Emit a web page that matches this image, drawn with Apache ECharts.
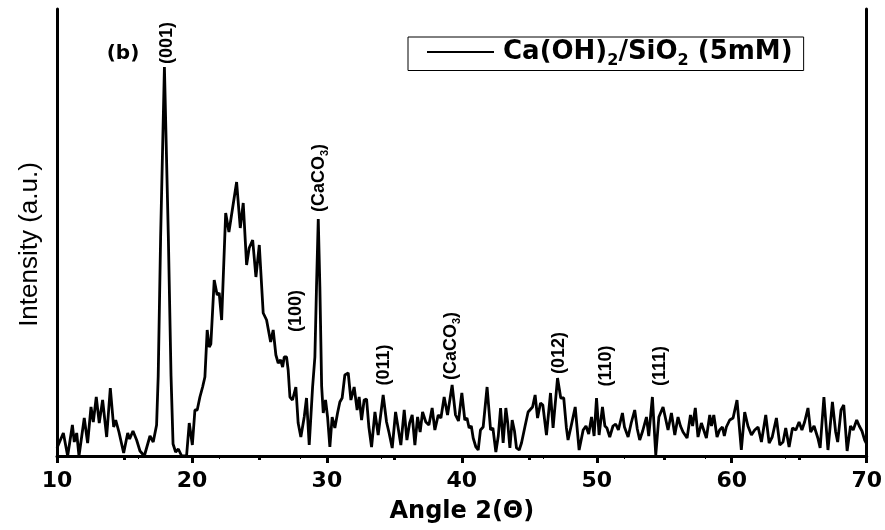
<!DOCTYPE html>
<html>
<head>
<meta charset="utf-8">
<title>XRD Ca(OH)2/SiO2 (5mM)</title>
<script src="https://cdn.jsdelivr.net/npm/echarts@6/dist/echarts.min.js"></script>
<style>
  html, body { margin: 0; padding: 0; background: #fff; }
  #main { width: 885px; height: 530px; }
</style>
</head>
<body>
<div id="main"></div>
<script>
// 2theta (deg) and intensity (a.u.)
var angles = [
  10.0, 10.47, 10.79, 11.14, 11.28, 11.46, 11.63, 12.02, 12.27, 12.52, 12.69, 12.91, 13.13, 13.38, 13.68, 13.95,
  14.2, 14.35, 14.59, 14.94, 15.24, 15.38, 15.63, 15.9, 16.15, 16.47, 16.89, 17.13, 17.38, 17.5, 17.68, 17.96,
  18.25, 18.45, 18.6, 18.79, 18.99, 19.24, 19.6, 19.8, 20.03, 20.22, 20.39, 20.59, 20.79, 20.96, 21.13, 21.28,
  21.4, 21.65, 21.87, 22.02, 22.2, 22.5, 22.74, 22.99, 23.31, 23.58, 23.8, 24.05, 24.24, 24.5, 24.74, 24.99,
  25.28, 25.53, 25.83, 26.02, 26.22, 26.39, 26.57, 26.72, 26.84, 27.01, 27.13, 27.26, 27.45, 27.7, 27.87, 28.07,
  28.32, 28.49, 28.69, 28.94, 29.11, 29.23, 29.36, 29.48, 29.61, 29.73, 29.9, 30.05, 30.22, 30.39, 30.59, 30.79,
  30.96, 31.13, 31.33, 31.58, 31.78, 32.02, 32.24, 32.39, 32.57, 32.76, 32.94, 33.11, 33.31, 33.56, 33.8, 34.17,
  34.42, 34.61, 34.84, 35.09, 35.28, 35.48, 35.73, 35.93, 36.13, 36.32, 36.52, 36.72, 36.91, 37.09, 37.33, 37.56,
  37.8, 38.0, 38.25, 38.45, 38.69, 38.94, 39.28, 39.53, 39.75, 40.0, 40.22, 40.38, 40.54, 40.7, 40.84, 41.04,
  41.21, 41.38, 41.58, 41.87, 42.13, 42.3, 42.52, 42.7, 42.87, 43.06, 43.26, 43.4, 43.56, 43.73, 43.9, 44.05,
  44.25, 44.42, 44.67, 44.91, 45.05, 45.24, 45.43, 45.61, 45.83, 46.0, 46.27, 46.57, 46.76, 47.09, 47.33, 47.55,
  47.75, 47.87, 48.1, 48.4, 48.69, 48.99, 49.2, 49.4, 49.61, 49.8, 49.98, 50.17, 50.42, 50.6, 50.75, 50.96,
  51.2, 51.4, 51.6, 51.9, 52.05, 52.32, 52.55, 52.81, 53.0, 53.18, 53.4, 53.68, 53.85, 54.12, 54.37, 54.6,
  54.91, 55.28, 55.53, 55.78, 56.02, 56.2, 56.39, 56.69, 56.94, 57.1, 57.3, 57.5, 57.75, 58.12, 58.37, 58.5,
  58.67, 58.91, 59.1, 59.31, 59.45, 59.6, 59.85, 60.1, 60.39, 60.71, 60.96, 61.2, 61.46, 61.7, 61.95, 62.2,
  62.52, 62.77, 63.0, 63.31, 63.56, 63.8, 64.0, 64.25, 64.5, 64.75, 64.99, 65.2, 65.4, 65.65, 65.85, 66.1,
  66.38, 66.55, 66.83, 67.13, 67.46, 67.7, 67.85, 68.1, 68.3, 68.55, 68.8, 69.0, 69.26, 69.45, 69.65, 69.85,
  70.0
];
var intensity = [
  8, 23, 0, 31, 14, 23, 0, 38, 13, 49, 34, 59, 33, 56, 19, 68,
  29, 36, 24, 3, 23, 17, 25, 16, 5, 0, 20, 14, 31, 80, 220, 389,
  220, 80, 12, 4, 7, 0, 0, 33, 11, 46, 46, 59, 69, 79, 126, 109,
  112, 176, 161, 163, 136, 243, 224, 246, 274, 228, 253, 191, 208, 216, 179, 211,
  143, 136, 114, 126, 101, 93, 96, 89, 99, 99, 86, 59, 56, 69, 33, 19,
  39, 58, 11, 69, 99, 169, 237, 169, 70, 43, 56, 39, 9, 39, 28, 43,
  54, 58, 81, 83, 56, 69, 46, 59, 36, 56, 57, 29, 9, 44, 21, 61,
  34, 23, 8, 44, 28, 11, 46, 16, 33, 41, 11, 39, 24, 44, 34, 31,
  48, 26, 41, 38, 59, 41, 71, 41, 35, 63, 36, 38, 28, 30, 18, 9,
  6, 26, 29, 69, 26, 28, 4, 20, 48, 13, 48, 33, 8, 36, 25, 8,
  6, 13, 29, 44, 42, 49, 61, 38, 53, 51, 21, 63, 28, 78, 58, 58,
  28, 16, 30, 49, 6, 26, 30, 22, 39, 20, 58, 21, 49, 30, 28, 19,
  30, 32, 26, 43, 29, 19, 33, 46, 27, 16, 25, 39, 20, 59, 1, 39,
  49, 26, 43, 21, 39, 30, 24, 18, 41, 30, 48, 19, 33, 18, 41, 30,
  41, 19, 26, 29, 20, 29, 36, 38, 56, 6, 44, 30, 21, 26, 29, 14,
  41, 13, 19, 38, 11, 14, 28, 9, 28, 26, 34, 26, 34, 48, 24, 30,
  18, 8, 59, 6, 54, 24, 14, 46, 51, 5, 30, 26, 36, 30, 25, 16,
  12
];

// peak annotations (rotated text)
var peakNames = ['(001)', '(100)', '(CaCO{s|3})', '(011)', '(CaCO{s|3})', '(012)', '(110)', '(111)'];
var peakAngles = [18.15, 27.74, 29.4, 34.22, 39.2, 47.2, 50.67, 54.67];
var peakHeights = [413, 145, 278, 91, 110, 103, 90, 90];

var seriesName = 'Ca(OH)2/SiO2 (5mM)';

var chart = echarts.init(document.getElementById('main'), null, { renderer: 'canvas' });

var lineData = angles.map(function (a, i) { return [a, intensity[i]]; });
var labelData = peakNames.map(function (n, i) {
  return { name: n, value: [peakAngles[i], peakHeights[i]] };
});
// panel letter
labelData.push({
  name: '(b)', value: [14.89, 402],
  label: { rotate: 0, fontFamily: 'DejaVu Sans', fontSize: 20 }
});

var option = {
  animation: false,
  backgroundColor: '#fff',
  grid: { left: 57, right: 18, top: 9, bottom: 74 },
  legend: {
    data: [seriesName],
    left: 408,
    top: 37,
    padding: [2, 11, 2, 19],
    icon: 'rect',
    itemWidth: 67,
    itemHeight: 2,
    borderColor: '#000',
    borderWidth: 1,
    borderRadius: 0,
    selectedMode: false,
    formatter: function () {
      return '{n|Ca(OH)}{s|2}{n|/SiO}{s|2}{n| (5mM)}';
    },
    textStyle: {
      color: '#000',
      padding: [0, 0, 0, 4],
      rich: {
        n: { fontFamily: 'DejaVu Sans', fontWeight: 'bold', fontSize: 26, color: '#000' },
        s: { fontFamily: 'DejaVu Sans', fontWeight: 'bold', fontSize: 16, color: '#000', padding: [17, 0, 0, 0] }
      }
    }
  },
  xAxis: [{
    type: 'value',
    min: 10,
    max: 70,
    interval: 10,
    position: 'bottom',
    name: 'Angle 2(Θ)',
    nameLocation: 'middle',
    nameGap: 44,
    nameTextStyle: { fontFamily: 'DejaVu Sans', fontWeight: 'bold', fontSize: 24, color: '#000' },
    axisLine: { lineStyle: { color: '#000', width: 3 } },
    axisTick: { inside: false, length: 7, lineStyle: { color: '#000', width: 3 } },
    minorTick: { show: true, splitNumber: 2, length: 4, lineStyle: { color: '#000', width: 3 } },
    axisLabel: { fontFamily: 'DejaVu Sans', fontWeight: 'bold', fontSize: 22, color: '#000', margin: 14 },
    splitLine: { show: false }
  }, {
    type: 'value',
    min: 10,
    max: 70,
    interval: 6,
    position: 'top',
    axisLine: { lineStyle: { color: '#000', width: 2 } },
    axisTick: { inside: true, length: 3, lineStyle: { color: '#000', width: 1 } },
    axisLabel: { show: false },
    splitLine: { show: false }
  }],
  yAxis: [{
    type: 'value',
    min: 0,
    max: 447,
    position: 'left',
    name: 'Intensity (a.u.)',
    nameLocation: 'middle',
    nameGap: 14,
    nameTextStyle: { fontFamily: 'Liberation Sans', fontSize: 26, color: '#000', padding: [0, 24, 0, 0] },
    axisLine: { show: true, lineStyle: { color: '#000', width: 3 } },
    axisTick: { show: false },
    axisLabel: { show: false },
    splitLine: { show: false }
  }, {
    type: 'value',
    min: 0,
    max: 447,
    position: 'right',
    axisLine: { show: true, lineStyle: { color: '#000', width: 3 } },
    axisTick: { show: false },
    axisLabel: { show: false },
    splitLine: { show: false }
  }],
  series: [{
    name: seriesName,
    type: 'line',
    data: lineData,
    symbol: 'none',
    clip: true,
    lineStyle: { color: '#000', width: 2.8 },
    itemStyle: { color: '#000' },
    z: 3
  }, {
    type: 'scatter',
    data: labelData,
    symbol: 'circle',
    symbolSize: 0,
    silent: true,
    itemStyle: { color: '#000', opacity: 1 },
    label: {
      show: true,
      position: 'inside',
      rotate: 90,
      formatter: function (p) { return p.name; },
      fontFamily: 'Liberation Sans',
      fontWeight: 'bold',
      fontSize: 18,
      color: '#000',
      opacity: 1,
      textBorderWidth: 0,
      rich: {
        s: { fontFamily: 'Liberation Sans', fontWeight: 'bold', fontSize: 11, color: '#000', padding: [12, 0, 0, 0] }
      }
    },
    z: 4
  }]
};

chart.setOption(option);
</script>
</body>
</html>
